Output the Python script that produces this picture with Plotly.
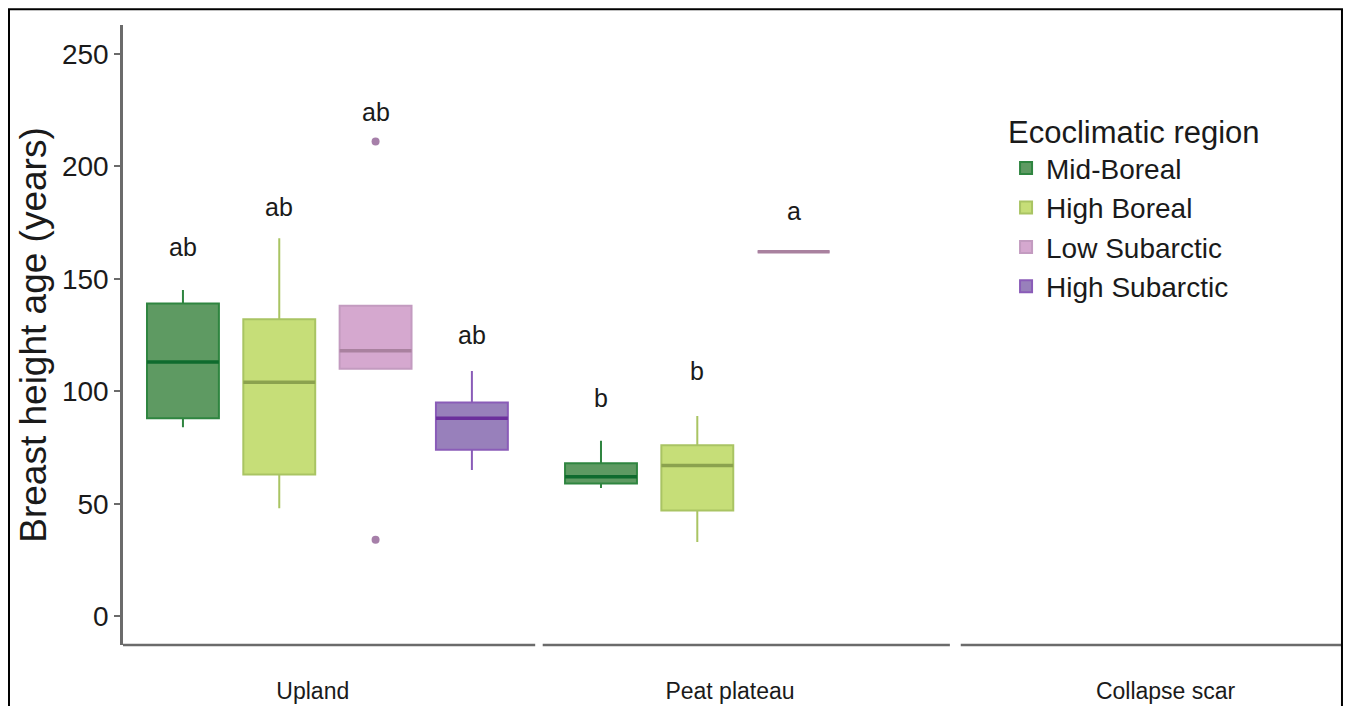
import plotly.graph_objects as go

# ---------------- data ----------------
sites = ["Upland", "Peat plateau", "Collapse scar"]
regions = ["Mid-Boreal", "High Boreal", "Low Subarctic", "High Subarctic"]

mb_sites = [0, 1]
mb_low = [84, 57]
mb_q1 = [88, 59]
mb_med = [113, 62]
mb_q3 = [139, 68]
mb_up = [145, 78]

hb_sites = [0, 1]
hb_low = [48, 33]
hb_q1 = [63, 47]
hb_med = [104, 67]
hb_q3 = [132, 76]
hb_up = [168, 89]

ls_sites = [0, 1]
ls_low = [110, 162]
ls_q1 = [110, 162]
ls_med = [118, 162]
ls_q3 = [138, 162]
ls_up = [138, 162]
ls_out_site = [0, 0]
ls_out_val = [211, 34]

hs_sites = [0]
hs_low = [65]
hs_q1 = [74]
hs_med = [88]
hs_q3 = [95]
hs_up = [109]

# significance letters
letter_site = [0, 0, 0, 0, 1, 1, 1]
letter_reg = [0, 1, 2, 3, 0, 1, 2]
letter_txt = ["ab", "ab", "ab", "ab", "b", "b", "a"]
letter_y = [164, 182, 224, 125, 97, 109, 180]

y_ticks = [0, 50, 100, 150, 200, 250]

# ---------------- style ----------------
fills = ["rgb(94,154,98)", "rgb(198,222,120)", "rgb(213,168,207)", "rgb(152,128,187)"]
lines = ["#2f8540", "#a9c463", "#c39bc0", "#8a5cb8"]
med_colors = ["#0f6b2e", "#8ba24e", "#a9819f", "#6b2f9c"]
outlier_color = "#a67fa9"
SPACING = 0.2304
BOXW = 0.172
offsets = [(i - 1.5) * SPACING for i in range(4)]
label_shift = [-0.035, -0.037, 0.005]
FONT = "Liberation Sans, Arial, sans-serif"
TXT = "#1a1a1a"
AXC = "#6b6b6b"
X_RANGE = [-0.489, 2.4246]
panel_lo = [-0.489, 0.515, 1.515]
panel_hi = [0.497, 1.489, 2.4246]

fig = go.Figure()

stats = [
    (mb_sites, mb_low, mb_q1, mb_med, mb_q3, mb_up),
    (hb_sites, hb_low, hb_q1, hb_med, hb_q3, hb_up),
    (ls_sites, ls_low, ls_q1, ls_med, ls_q3, ls_up),
    (hs_sites, hs_low, hs_q1, hs_med, hs_q3, hs_up),
]
for i, (s, lo, q1, med, q3, up) in enumerate(stats):
    xs = [si + offsets[i] for si in s]
    fig.add_trace(go.Box(
        name=regions[i],
        x=xs,
        lowerfence=lo, q1=q1, median=med, q3=q3, upperfence=up,
        width=BOXW,
        whiskerwidth=0,
        fillcolor=fills[i],
        line=dict(color=lines[i], width=2),
        boxpoints=False,
        hoverinfo="skip",
    ))

# thicker median bars (as in the original)
for i, (s, lo, q1, med, q3, up) in enumerate(stats):
    mx, my = [], []
    for si, m in zip(s, med):
        c = si + offsets[i]
        mx += [c - BOXW / 2, c + BOXW / 2, None]
        my += [m, m, None]
    fig.add_trace(go.Scatter(x=mx, y=my, mode="lines",
                             line=dict(color=med_colors[i], width=3.5),
                             showlegend=False, hoverinfo="skip"))

fig.add_trace(go.Scatter(
    x=[si + offsets[2] for si in ls_out_site], y=ls_out_val,
    mode="markers", marker=dict(color=outlier_color, size=8),
    showlegend=False, hoverinfo="skip",
))

for s, r, t, yv in zip(letter_site, letter_reg, letter_txt, letter_y):
    fig.add_annotation(x=s + offsets[r], y=yv, text=t, showarrow=False,
                       xanchor="center", yanchor="middle",
                       font=dict(size=25, color=TXT, family=FONT))

for a, b in zip(panel_lo, panel_hi):
    fig.add_shape(type="line", xref="x", yref="paper", x0=a, x1=b, y0=0, y1=0,
                  line=dict(color=AXC, width=2.5))

# outer frame (left, top, right)
fig.add_shape(type="path", xref="paper", yref="paper",
              path="M -0.0936,-0.2 L -0.0936,1.0256 L 1.0008,1.0256 L 1.0008,-0.2",
              line=dict(color="black", width=2))

fig.update_layout(
    width=1335, height=698,
    margin=dict(l=115, r=2, t=17, b=56),
    paper_bgcolor="white", plot_bgcolor="white",
    font=dict(family=FONT, color=TXT),
    showlegend=True,
    legend=dict(
        title=dict(text="Ecoclimatic region", font=dict(size=31, family=FONT, color=TXT)),
        font=dict(size=28, family=FONT, color=TXT),
        x=0.725, y=0.874, xanchor="left", yanchor="top",
        bgcolor="rgba(0,0,0,0)",
    ),
    xaxis=dict(
        range=X_RANGE,
        tickmode="array", tickvals=[k + label_shift[k] for k in range(len(sites))], ticktext=sites,
        showline=False, showgrid=False, zeroline=False, ticks="",
        ticklabelstandoff=30,
        tickfont=dict(size=23, family=FONT, color=TXT),
    ),
    yaxis=dict(
        range=[-12.8, 262.8],
        tickmode="array", tickvals=y_ticks,
        showline=True, linecolor=AXC, linewidth=2.5,
        ticks="outside", ticklen=6, tickwidth=2, tickcolor=AXC,
        showgrid=False, zeroline=False,
        tickfont=dict(size=28, family=FONT, color=TXT),
        title=dict(text="Breast height age (years)", font=dict(size=37, family=FONT, color=TXT), standoff=4),
    ),
)

fig.write_html("out.html", config={"displayModeBar": False})
